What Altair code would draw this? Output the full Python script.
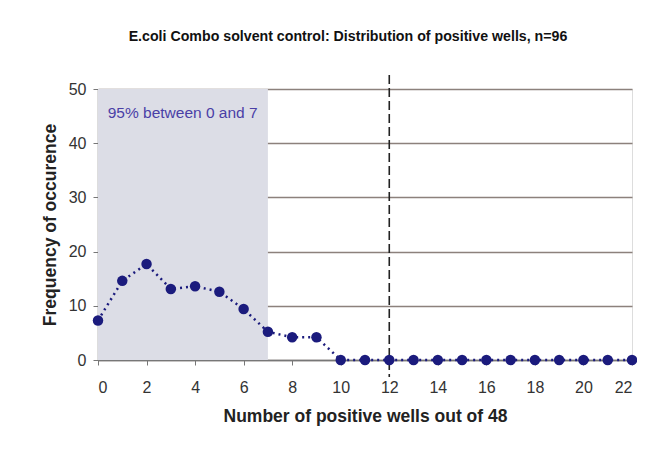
import altair as alt
import pandas as pd

wells = list(range(0, 23))
freq = [7.3, 14.6, 17.7, 13.1, 13.6, 12.6, 9.4, 5.2, 4.2, 4.2,
        0, 0, 0, 0, 0, 0, 0, 0, 0, 0, 0, 0, 0]
band_start = [0]
band_end = [7]
band_top = [50]
cutoff = [12]
note_text = ["95% between 0 and 7"]
note_x = [0.4]
note_y = [45.5]

df = pd.DataFrame({"wells": wells, "freq": freq})
band = pd.DataFrame({"x": band_start, "x2": band_end, "y": [0], "y2": band_top})
rule_df = pd.DataFrame({"x": cutoff})
note = pd.DataFrame({"x": note_x, "y": note_y, "t": note_text})

FONT = "Liberation Sans"
NAVY = "#1b1b7d"

xs = alt.Scale(domain=[0, 22], nice=False, zero=False)
ys = alt.Scale(domain=[0, 50], nice=False)

shade = alt.Chart(band).mark_rect(color="#dcdde6", opacity=1).encode(
    x=alt.X("x:Q", scale=xs), x2="x2:Q",
    y=alt.Y("y:Q", scale=ys), y2="y2:Q",
)

base_axes = alt.Chart(df).mark_point(opacity=0).encode(
    x=alt.X("wells:Q", scale=xs,
            axis=alt.Axis(values=list(range(0, 23, 2)), title="Number of positive wells out of 48",
                          grid=False, labelFontSize=16, labelColor="#333333", labelPadding=14,
                          tickSize=5, tickColor="#777777", domainColor="#777777", domainWidth=1.5,
                          titleFontSize=17.5, titleFontWeight="bold", titleColor="#222222",
                          titlePadding=12, labelFont=FONT, titleFont=FONT)),
    y=alt.Y("freq:Q", scale=ys,
            axis=alt.Axis(values=[0, 10, 20, 30, 40, 50], title="Frequency of occurence",
                          grid=True, gridColor="#8c817c", gridWidth=1.5,
                          labelFontSize=16, labelColor="#333333", labelPadding=7,
                          tickSize=5, tickColor="#777777", domainColor="#777777", domainWidth=1.5,
                          titleFontSize=17.5, titleFontWeight="bold", titleColor="#222222",
                          titlePadding=9, labelFont=FONT, titleFont=FONT)),
)

line = alt.Chart(df).mark_line(color=NAVY, strokeWidth=2.5, strokeDash=[2, 4], clip=False).encode(
    x=alt.X("wells:Q", scale=xs), y=alt.Y("freq:Q", scale=ys)
)
pts = alt.Chart(df).mark_circle(color=NAVY, size=110, opacity=1, clip=False).encode(
    x=alt.X("wells:Q", scale=xs), y=alt.Y("freq:Q", scale=ys)
)

rule = alt.Chart(rule_df).mark_rule(color="#222222", strokeWidth=1.6, strokeDash=[9, 4], clip=False).encode(
    x=alt.X("x:Q", scale=xs), y=alt.value(-14), y2=alt.value(288)
)

txt = alt.Chart(note).mark_text(align="left", baseline="middle", fontSize=15.5, font=FONT,
                                color="#4a3fa6").encode(
    x=alt.X("x:Q", scale=xs), y=alt.Y("y:Q", scale=ys), text="t:N"
)

chart = alt.layer(shade, base_axes, rule, line, pts, txt).properties(
    width=534, height=271,
    autosize=alt.AutoSizeParams(type="none"),
    padding={"left": 90, "top": 81, "right": 5, "bottom": 70},
    title=alt.TitleParams("E.coli Combo solvent control: Distribution of positive wells, n=96",
                          fontSize=14.2, fontWeight="bold", font=FONT, color="#111111",
                          anchor="middle", dx=-17, offset=16, baseline="bottom", frame="group"),
).configure_view(stroke="#8c817c", strokeWidth=1.5).configure(background="white")

chart.save("out.html", embed_options={"renderer": "svg", "actions": False})
